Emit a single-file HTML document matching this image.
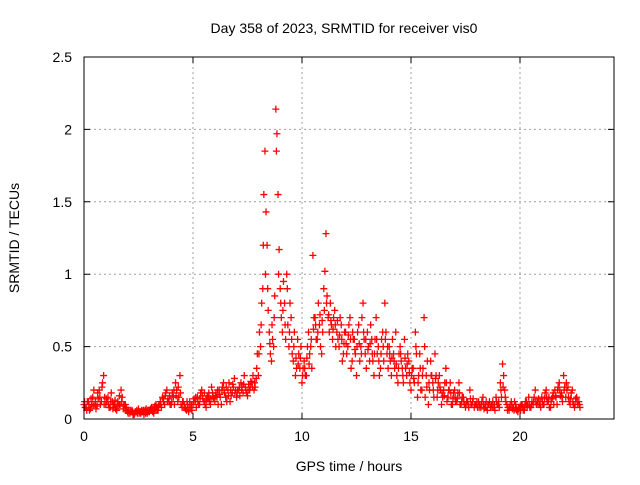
<!DOCTYPE html>
<html><head><meta charset="utf-8"><style>
body{margin:0;background:#fff}
svg text{font-family:"Liberation Sans",sans-serif;font-size:14px;fill:#000}
</style></head><body>
<svg width="640" height="480" xmlns="http://www.w3.org/2000/svg">
<rect width="640" height="480" fill="#fff"/>
<g id="grid"></g>
<g id="pts"></g>
<rect x="84" y="57" width="530" height="362" fill="none" stroke="#000" stroke-width="1"/>
<g id="ticks"></g>
<text x="344" y="33" text-anchor="middle">Day 358 of 2023, SRMTID for receiver vis0</text>
<text x="349" y="471" text-anchor="middle">GPS time / hours</text>
<text transform="translate(19,238) rotate(-90)" text-anchor="middle">SRMTID / TECUs</text>
</svg>
<script>
const xTicks=[0,5,10,15,20];
const yTicks=[0,0.5,1,1.5,2,2.5];
const yTickLabels=["0","0.5","1","1.5","2","2.5"];
const timeStep=0.1;
const values=[
0.1,0.08,0.12,0.07,0.15,0.1,0.09,0.2,0.12,0.3,
0.1,0.15,0.08,0.12,0.1,0.06,0.09,0.2,0.07,0.1,
0.05,0.04,0.06,0.03,0.05,0.07,0.04,0.05,0.06,0.04,
0.05,0.08,0.04,0.1,0.06,0.12,0.15,0.1,0.2,0.12,
0.1,0.15,0.25,0.12,0.3,0.08,0.1,0.06,0.05,0.08,
0.1,0.12,0.15,0.1,0.2,0.12,0.08,0.15,0.1,0.18,
0.12,0.15,0.2,0.1,0.25,0.15,0.2,0.12,0.18,0.28,
0.15,0.2,0.25,0.18,0.22,0.16,0.2,0.25,0.2,0.28,
0.3,0.5,0.9,1.85,1.2,0.6,0.4,0.5,2.14,1.55,
0.9,0.6,0.8,1.0,0.5,0.7,0.4,0.3,0.55,0.35,
0.25,0.4,0.3,0.6,0.5,1.13,0.7,0.55,0.65,0.45,
0.9,1.28,0.7,0.8,0.55,0.75,0.6,0.5,0.65,0.45,
0.6,0.5,0.7,0.4,0.55,0.3,0.65,0.5,0.8,0.45,
0.6,0.4,0.55,0.3,0.7,0.5,0.35,0.6,0.8,0.45,
0.5,0.3,0.45,0.6,0.25,0.5,0.35,0.55,0.3,0.4,
0.2,0.35,0.6,0.15,0.45,0.2,0.7,0.3,0.1,0.4,
0.25,0.45,0.15,0.3,0.1,0.2,0.35,0.15,0.25,0.1,
0.2,0.12,0.25,0.1,0.15,0.08,0.12,0.2,0.1,0.08,
0.1,0.12,0.08,0.15,0.1,0.06,0.12,0.1,0.08,0.15,
0.1,0.25,0.38,0.2,0.1,0.06,0.12,0.08,0.1,0.05,
0.08,0.1,0.06,0.12,0.15,0.08,0.1,0.2,0.12,0.1,
0.15,0.1,0.2,0.12,0.08,0.15,0.2,0.1,0.25,0.18,
0.3,0.15,0.22,0.1,0.2,0.08,0.15,0.12];
const valuesB=[
0.08,0.12,0.06,0.1,0.2,0.07,0.14,0.1,0.25,0.15,
0.12,0.08,0.18,0.1,0.07,0.12,0.1,0.15,0.1,0.06,
0.06,0.05,0.03,0.05,0.04,0.05,0.06,0.03,0.07,0.05,
0.07,0.05,0.09,0.06,0.1,0.08,0.12,0.18,0.14,0.1,
0.18,0.1,0.2,0.15,0.1,0.12,0.07,0.1,0.12,0.06,
0.14,0.08,0.1,0.18,0.14,0.1,0.16,0.12,0.22,0.14,
0.18,0.1,0.15,0.22,0.18,0.12,0.25,0.16,0.22,0.2,
0.2,0.16,0.22,0.3,0.18,0.24,0.26,0.3,0.22,0.45,
0.6,0.8,1.55,1.43,0.75,0.45,0.55,0.85,1.97,1.17,
0.7,0.95,0.55,0.65,0.8,0.45,0.6,0.35,0.45,0.5,
0.35,0.3,0.5,0.45,0.35,0.7,0.55,0.8,0.5,0.6,
1.02,0.85,0.6,0.65,0.7,0.5,0.55,0.7,0.4,0.6,
0.45,0.65,0.35,0.55,0.45,0.6,0.4,0.7,0.55,0.35,
0.5,0.65,0.4,0.55,0.45,0.3,0.55,0.4,0.6,0.35,
0.4,0.55,0.35,0.3,0.45,0.4,0.25,0.35,0.45,0.25,
0.35,0.25,0.45,0.3,0.2,0.35,0.15,0.4,0.2,0.3,
0.15,0.3,0.25,0.2,0.15,0.25,0.12,0.2,0.1,0.18,
0.12,0.18,0.1,0.15,0.1,0.12,0.08,0.1,0.14,0.1,
0.08,0.1,0.12,0.07,0.12,0.1,0.08,0.12,0.06,0.1,
0.08,0.15,0.3,0.12,0.08,0.1,0.07,0.12,0.06,0.08,
0.1,0.06,0.12,0.1,0.08,0.12,0.15,0.1,0.14,0.08,
0.1,0.18,0.12,0.08,0.14,0.1,0.15,0.22,0.16,0.12,
0.22,0.2,0.12,0.18,0.1,0.14,0.1,0.08];
const valuesC=[
0.12,0.06,0.1,0.14,0.09,0.12,0.18,0.15,0.22,0.1,
0.14,0.1,0.12,0.07,0.13,0.09,0.16,0.12,0.09,0.08,
0.04,0.06,0.05,0.04,0.06,0.04,0.05,0.06,0.04,0.06,
0.06,0.06,0.07,0.08,0.09,0.1,0.14,0.16,0.12,0.16,
0.12,0.2,0.16,0.22,0.18,0.12,0.08,0.12,0.08,0.1,
0.12,0.15,0.12,0.14,0.16,0.18,0.13,0.18,0.14,0.15,
0.16,0.2,0.17,0.2,0.2,0.22,0.16,0.2,0.24,0.18,
0.18,0.22,0.2,0.24,0.2,0.2,0.22,0.22,0.25,0.35,
0.45,0.65,1.2,1.0,0.9,0.52,0.65,0.7,1.85,1.0,
0.8,0.75,0.65,0.9,0.6,0.55,0.5,0.42,0.38,0.42,
0.3,0.35,0.42,0.38,0.55,0.62,0.65,0.6,0.72,0.68,
0.75,0.8,0.72,0.68,0.62,0.65,0.68,0.58,0.55,0.52,
0.52,0.58,0.55,0.6,0.48,0.5,0.52,0.45,0.6,0.55,
0.48,0.52,0.45,0.45,0.55,0.4,0.45,0.5,0.55,0.5,
0.45,0.42,0.4,0.38,0.35,0.45,0.3,0.42,0.38,0.32,
0.3,0.28,0.5,0.25,0.35,0.3,0.5,0.22,0.25,0.3,
0.2,0.28,0.2,0.22,0.18,0.16,0.25,0.2,0.18,0.14,
0.15,0.14,0.18,0.12,0.12,0.1,0.1,0.14,0.12,0.1,
0.12,0.08,0.1,0.1,0.08,0.1,0.1,0.08,0.1,0.12,
0.12,0.2,0.22,0.15,0.06,0.08,0.1,0.06,0.08,0.07,
0.06,0.08,0.09,0.08,0.1,0.1,0.12,0.12,0.1,0.12,
0.12,0.14,0.15,0.15,0.12,0.18,0.16,0.2,0.2,0.15,
0.2,0.25,0.15,0.14,0.12,0.1,0.12,0.1];
const NS="http://www.w3.org/2000/svg";
const X0=84,X1=614,Y0=419,Y1=57,xMax=(614-84)/21.8,yMax=2.5;
const xs=t=>X0+t/xMax*(X1-X0);
const ys=v=>Y0-v/yMax*(Y0-Y1);
function mk(tag,attrs,parent){const e=document.createElementNS(NS,tag);for(const k in attrs)e.setAttribute(k,attrs[k]);parent.appendChild(e);return e;}
const grid=document.getElementById('grid'),ticks=document.getElementById('ticks'),pts=document.getElementById('pts');
xTicks.forEach(t=>{const x=xs(t);
 if(t>0){const l=mk('line',{x1:x,x2:x,y1:Y0,y2:Y1,stroke:'#a0a0a0','stroke-dasharray':'2,3'},grid);
 
 }
 const a=mk('path',{d:`M${x},${Y0}v-6M${x},${Y1}v6`,stroke:'#000'},ticks);
 
 
 const tx=mk('text',{x:x,y:Y0+22,'text-anchor':'middle'},ticks);tx.textContent=t;
 
 
});
yTicks.forEach((v,i)=>{const y=ys(v);
 if(v>0&&v<yMax){const l=mk('line',{x1:X0,x2:X1,y1:y,y2:y,stroke:'#a0a0a0','stroke-dasharray':'2,3'},grid);
 
 }
 const a=mk('path',{d:`M${X0},${y}h6M${X1},${y}h-6`,stroke:'#000'},ticks);
 
 
 const tx=mk('text',{x:X0-12,y:y+5,'text-anchor':'end'},ticks);tx.textContent=yTickLabels[i];
 
 
});
function plot(arr,off){let d='';arr.forEach((v,i)=>{const x=xs(i*timeStep+off),y=ys(v);d+=`M${x-3.5},${y}h7M${x},${y-3.5}v7`;});
 const p=mk('path',{d:d,stroke:'#ff0000','stroke-width':1.3,fill:'none'},pts);
 
 }
plot(values,0);plot(valuesB,0.05);plot(valuesC,0.025);
</script>
</body></html>
